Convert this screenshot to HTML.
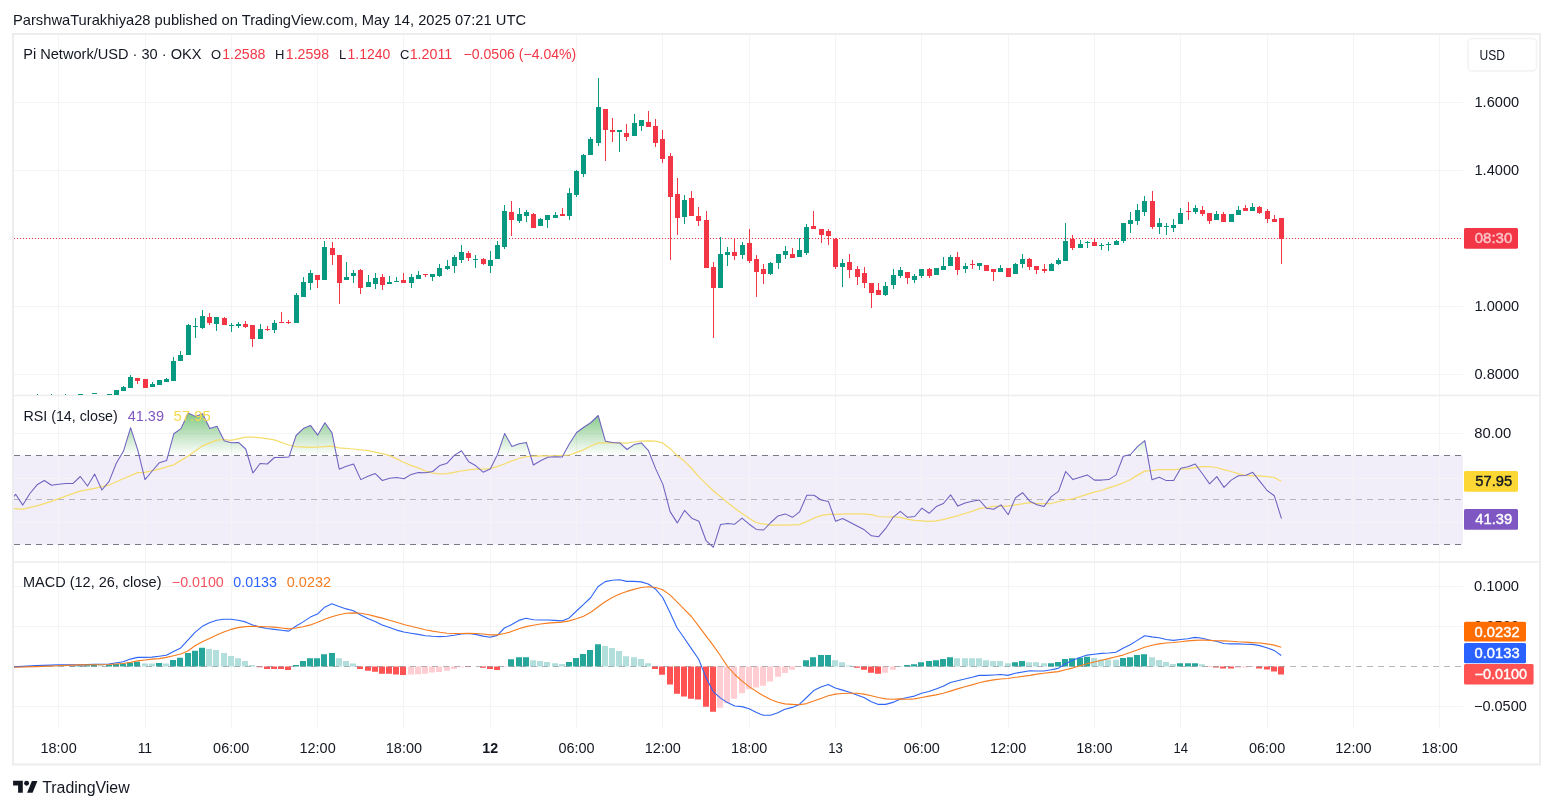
<!DOCTYPE html>
<html><head><meta charset="utf-8"><title>Pi Network/USD chart</title>
<style>html,body{margin:0;padding:0;background:#fff;}body{width:1553px;height:809px;position:relative;overflow:hidden;font-family:"Liberation Sans", sans-serif;}</style>
</head><body>
<svg width="1553" height="809" viewBox="0 0 1553 809" style="position:absolute;left:0;top:0;will-change:transform" font-family='"Liberation Sans", sans-serif'>
<defs>
<linearGradient id="ob" x1="0" y1="410" x2="0" y2="455.5" gradientUnits="userSpaceOnUse"><stop offset="0" stop-color="#4caf50" stop-opacity="0.75"/><stop offset="1" stop-color="#4caf50" stop-opacity="0"/></linearGradient>
<clipPath id="cm"><rect x="14" y="35" width="1449" height="360"/></clipPath>
<clipPath id="c70"><rect x="14" y="397" width="1449" height="58.5"/></clipPath>
<clipPath id="cr"><rect x="14" y="397" width="1449" height="165"/></clipPath>
<clipPath id="cd"><rect x="14" y="563" width="1449" height="166"/></clipPath>
</defs>
<rect width="1553" height="809" fill="#fff"/>
<rect x="14" y="455.5" width="1449" height="89" fill="#7e57c2" fill-opacity="0.1"/>
<path d="M58.5 35V728 M145.5 35V728 M231.5 35V728 M317.5 35V728 M403.5 35V728 M490.5 35V728 M576.5 35V728 M662.5 35V728 M749.5 35V728 M835.5 35V728 M921.5 35V728 M1008.5 35V728 M1094.5 35V728 M1180.5 35V728 M1267.5 35V728 M1353.5 35V728 M1439.5 35V728 M14 102.5H1463 M14 170.5H1463 M14 238.5H1463 M14 306.5H1463 M14 374.5H1463 M14 433.5H1463 M14 478.5H1463 M14 522.5H1463 M14 586.5H1463 M14 626.5H1463 M14 706.5H1463" stroke="#f3f4f6" stroke-width="1" fill="none"/>
<path d="M13 395.5H1540M13 562H1540" stroke="#ededef" stroke-width="1.4" fill="none"/>
<rect x="13" y="34" width="1527" height="730.5" fill="none" stroke="#ededef" stroke-width="2"/>
<path d="M14 238.5H1463" stroke="#f23645" stroke-width="1" stroke-dasharray="1 2" fill="none"/>
<g clip-path="url(#cm)">
<path d="M37.5 394V395.2M51.5 394V395.2M65.5 394V395.2M80.5 394V396M94.5 393V394M109.5 394V395M116.5 390V395M123.5 386V391M130.5 375V388M152.5 382V387M159.5 380V385M166.5 378V382M173.5 357V381M180.5 351V361M188.5 324V355M195.5 318V338M202.5 310V329M216.5 317V331M231.5 323V332M238.5 322V328M260.5 324V339M274.5 320V333M296.5 293V323M303.5 277V297M310.5 270V290M324.5 241V280M346.5 262V280M353.5 270V283M368.5 275V287M375.5 273V289M389.5 276V284M396.5 277V282M411.5 274V288M418.5 271V279M432.5 274V281M439.5 264V277M447.5 260V270M454.5 255V273M461.5 245V263M475.5 255V268M490.5 251V273M497.5 241V259M504.5 205V249M519.5 208V223M526.5 210V222M540.5 218V226M547.5 215V228M555.5 212V218M569.5 188V220M576.5 170V197M583.5 154V177M590.5 137V155M598.5 78V146M619.5 130V152M634.5 114V136M641.5 120V131M684.5 195V224M720.5 237V288M727.5 247V266M742.5 242V259M770.5 262V275M778.5 254V269M785.5 246V259M799.5 238V257M806.5 224V255M842.5 259V287M885.5 282V296M893.5 269V289M900.5 267V278M914.5 274V283M921.5 269V278M936.5 268V275M943.5 257V270M950.5 255V266M965.5 263V273M979.5 263V270M1000.5 265V272M1015.5 263V274M1022.5 254V268M1051.5 263V271M1058.5 258V265M1065.5 223V261M1080.5 240V248M1087.5 241V248M1101.5 243V250M1108.5 242V251M1116.5 240V245M1123.5 223V243M1130.5 212V233M1137.5 204V225M1144.5 196V216M1159.5 218V234M1166.5 223V235M1173.5 219V232M1180.5 208V224M1195.5 205V214M1216.5 211V220M1231.5 214V222M1238.5 206V215M1252.5 203V211" stroke="#089981" stroke-width="1" fill="none"/>
<path d="M137.5 378V384M145.5 379V388M209.5 313V325M224.5 317V325M245.5 321V328M252.5 325V347M267.5 326V331M281.5 312V323M288.5 320V324M317.5 275V288M332.5 242V265M339.5 255V304M360.5 269V294M382.5 274V290M403.5 273V283M425.5 274V277M468.5 251V261M483.5 258V265M511.5 201V236M533.5 213V228M562.5 208V216M605.5 109V161M612.5 118V142M626.5 124V141M648.5 111V127M655.5 119V147M662.5 130V163M670.5 153V260M677.5 178V235M691.5 191V216M698.5 207V226M706.5 211V268M713.5 262V338M734.5 239V260M749.5 229V263M756.5 255V297M763.5 264V284M792.5 248V258M813.5 211V229M821.5 229V243M828.5 229V245M835.5 238V269M849.5 254V278M857.5 266V285M864.5 267V288M871.5 283V308M878.5 283V295M907.5 272V284M929.5 268V278M957.5 252V275M972.5 260V269M986.5 265V271M993.5 269V281M1008.5 268V277M1029.5 258V270M1036.5 266V274M1044.5 264V273M1072.5 235V250M1094.5 238V246M1152.5 191V229M1188.5 202V220M1202.5 206V216M1209.5 213V224M1223.5 212V222M1245.5 205V211M1259.5 206V214M1267.5 209V223M1274.5 215V222M1281.5 218V264" stroke="#f23645" stroke-width="1" fill="none"/>
<path d="M78.0 394h5V395h-5ZM92.0 393h5V394h-5ZM107.0 394h5V395h-5ZM114.0 390h5V395h-5ZM121.0 387h5V391h-5ZM128.0 377h5V388h-5ZM150.0 384h5V387h-5ZM157.0 380h5V385h-5ZM164.0 379h5V382h-5ZM171.0 361h5V381h-5ZM178.0 355h5V361h-5ZM186.0 325h5V355h-5ZM193.0 326h5V327h-5ZM200.0 316h5V328h-5ZM214.0 317h5V324h-5ZM229.0 325h5V326h-5ZM236.0 324h5V326h-5ZM258.0 329h5V339h-5ZM272.0 323h5V330h-5ZM294.0 295h5V323h-5ZM301.0 282h5V297h-5ZM308.0 273h5V283h-5ZM322.0 247h5V280h-5ZM344.0 277h5V280h-5ZM351.0 273h5V276h-5ZM366.0 282h5V287h-5ZM373.0 278h5V284h-5ZM387.0 282h5V284h-5ZM394.0 281h5V282h-5ZM409.0 277h5V283h-5ZM416.0 275h5V279h-5ZM430.0 274h5V277h-5ZM437.0 268h5V276h-5ZM445.0 266h5V269h-5ZM452.0 257h5V266h-5ZM459.0 252h5V260h-5ZM473.0 259h5V260h-5ZM488.0 260h5V266h-5ZM495.0 245h5V259h-5ZM502.0 211h5V247h-5ZM517.0 214h5V221h-5ZM524.0 212h5V216h-5ZM538.0 219h5V226h-5ZM545.0 215h5V220h-5ZM553.0 215h5V218h-5ZM567.0 193h5V216h-5ZM574.0 171h5V195h-5ZM581.0 155h5V174h-5ZM588.0 139h5V155h-5ZM596.0 107h5V143h-5ZM617.0 130h5V132h-5ZM632.0 123h5V136h-5ZM639.0 120h5V126h-5ZM682.0 200h5V217h-5ZM718.0 254h5V288h-5ZM725.0 252h5V255h-5ZM740.0 245h5V255h-5ZM768.0 263h5V274h-5ZM776.0 254h5V263h-5ZM783.0 251h5V255h-5ZM797.0 250h5V257h-5ZM804.0 227h5V253h-5ZM840.0 263h5V267h-5ZM883.0 286h5V295h-5ZM891.0 275h5V285h-5ZM898.0 270h5V276h-5ZM912.0 276h5V280h-5ZM919.0 269h5V276h-5ZM934.0 268h5V275h-5ZM941.0 266h5V270h-5ZM948.0 257h5V266h-5ZM963.0 266h5V269h-5ZM977.0 263h5V266h-5ZM998.0 268h5V272h-5ZM1013.0 264h5V274h-5ZM1020.0 259h5V264h-5ZM1049.0 264h5V271h-5ZM1056.0 260h5V264h-5ZM1063.0 241h5V261h-5ZM1078.0 244h5V248h-5ZM1085.0 242h5V243h-5ZM1099.0 245h5V246h-5ZM1106.0 244h5V245h-5ZM1114.0 241h5V245h-5ZM1121.0 223h5V241h-5ZM1128.0 220h5V224h-5ZM1135.0 210h5V221h-5ZM1142.0 201h5V212h-5ZM1157.0 223h5V227h-5ZM1164.0 226h5V227h-5ZM1171.0 225h5V228h-5ZM1178.0 213h5V224h-5ZM1193.0 208h5V212h-5ZM1214.0 214h5V220h-5ZM1229.0 214h5V222h-5ZM1236.0 210h5V215h-5ZM1250.0 207h5V211h-5Z" fill="#089981"/>
<path d="M135.0 378h5V381h-5ZM143.0 379h5V388h-5ZM207.0 317h5V323h-5ZM222.0 318h5V325h-5ZM243.0 324h5V327h-5ZM250.0 325h5V339h-5ZM265.0 329h5V330h-5ZM279.0 322h5V323h-5ZM286.0 322h5V323h-5ZM315.0 275h5V280h-5ZM330.0 248h5V255h-5ZM337.0 255h5V283h-5ZM358.0 270h5V288h-5ZM380.0 277h5V285h-5ZM401.0 280h5V283h-5ZM423.0 274h5V275h-5ZM466.0 253h5V258h-5ZM481.0 259h5V264h-5ZM509.0 212h5V220h-5ZM531.0 214h5V228h-5ZM560.0 214h5V216h-5ZM603.0 109h5V130h-5ZM610.0 130h5V132h-5ZM624.0 133h5V137h-5ZM646.0 122h5V127h-5ZM653.0 126h5V143h-5ZM660.0 139h5V159h-5ZM668.0 156h5V197h-5ZM675.0 194h5V218h-5ZM689.0 198h5V216h-5ZM696.0 216h5V221h-5ZM704.0 220h5V268h-5ZM711.0 267h5V288h-5ZM732.0 252h5V256h-5ZM747.0 243h5V261h-5ZM754.0 259h5V272h-5ZM761.0 269h5V274h-5ZM790.0 254h5V258h-5ZM811.0 226h5V229h-5ZM819.0 229h5V235h-5ZM826.0 231h5V236h-5ZM833.0 239h5V267h-5ZM847.0 262h5V270h-5ZM855.0 269h5V277h-5ZM862.0 273h5V283h-5ZM869.0 283h5V293h-5ZM876.0 290h5V295h-5ZM905.0 272h5V278h-5ZM927.0 269h5V276h-5ZM955.0 257h5V270h-5ZM970.0 264h5V265h-5ZM984.0 265h5V271h-5ZM991.0 269h5V272h-5ZM1006.0 268h5V277h-5ZM1027.0 259h5V267h-5ZM1034.0 266h5V270h-5ZM1042.0 269h5V271h-5ZM1070.0 239h5V248h-5ZM1092.0 242h5V246h-5ZM1150.0 201h5V227h-5ZM1186.0 211h5V212h-5ZM1200.0 210h5V214h-5ZM1207.0 213h5V221h-5ZM1221.0 214h5V222h-5ZM1243.0 208h5V211h-5ZM1257.0 207h5V213h-5ZM1265.0 211h5V219h-5ZM1272.0 219h5V222h-5ZM1279.0 218h5V239h-5Z" fill="#f23645"/>
</g>
<polygon clip-path="url(#c70)" points="13,455.5 13.0,497.5 15.6,494.3 22.8,505.1 29.9,493.5 37.1,484.8 44.3,480.5 51.5,485.2 58.7,484.3 65.9,483.6 73.1,483.4 80.3,476.5 87.5,486.0 94.7,474.1 101.9,490.0 109.1,481.4 116.3,463.2 123.5,451.1 130.6,427.7 137.8,450.2 145.0,479.6 152.2,471.0 159.4,462.7 166.6,460.6 173.8,433.8 181.0,428.6 188.2,413.0 195.4,416.4 202.6,413.8 209.8,428.6 217.0,426.3 224.2,440.7 231.3,442.8 238.5,442.4 245.7,449.0 252.9,473.0 260.1,463.5 267.3,464.0 274.5,457.5 281.7,457.5 288.9,457.1 296.1,435.5 303.3,428.6 310.5,425.4 317.7,435.1 324.9,422.8 332.0,432.9 339.2,469.2 346.4,466.3 353.6,464.0 360.8,479.6 368.0,476.2 375.2,473.6 382.4,480.5 389.6,478.2 396.8,477.4 404.0,478.8 411.2,474.4 418.4,472.4 425.6,472.7 432.7,471.5 439.9,465.4 447.1,463.2 454.3,455.4 461.5,450.7 468.7,461.8 475.9,465.8 483.1,472.2 490.3,468.9 497.5,454.5 504.7,433.4 511.9,446.4 519.1,443.8 526.3,442.4 533.4,465.0 540.6,460.7 547.8,457.3 555.0,456.7 562.2,457.1 569.4,443.8 576.6,432.5 583.8,427.3 591.0,422.5 598.2,415.5 605.4,441.2 612.6,442.5 619.8,442.9 627.0,449.5 634.1,444.6 641.3,442.9 648.5,450.7 655.7,468.9 662.9,484.4 670.1,511.6 677.3,522.9 684.5,510.4 691.7,518.2 698.9,521.3 706.1,540.7 713.3,547.3 720.5,524.6 727.7,523.4 734.8,524.2 742.0,518.2 749.2,524.2 756.4,529.4 763.6,530.0 770.8,522.5 778.0,515.9 785.2,513.9 792.4,517.3 799.6,511.8 806.8,495.2 814.0,495.3 821.2,500.0 828.4,501.4 835.6,521.3 842.7,518.5 849.9,522.2 857.1,526.0 864.3,529.8 871.5,535.8 878.7,536.7 885.9,528.2 893.1,517.3 900.3,511.3 907.5,517.3 914.7,516.5 921.9,508.1 929.1,513.3 936.3,506.6 943.4,503.5 950.6,494.8 957.8,506.1 965.0,503.1 972.2,501.2 979.4,500.0 986.6,508.3 993.8,509.2 1001.0,504.9 1008.2,514.7 1015.4,497.9 1022.6,492.7 1029.8,501.2 1037.0,504.7 1044.1,506.4 1051.3,496.6 1058.5,491.4 1065.7,471.5 1072.9,479.6 1080.1,477.2 1087.3,474.9 1094.5,480.1 1101.7,480.1 1108.9,479.6 1116.1,474.9 1123.3,456.2 1130.5,454.5 1137.7,446.4 1144.8,440.6 1152.0,479.8 1159.2,477.2 1166.4,480.6 1173.6,480.5 1180.8,468.3 1188.0,466.8 1195.2,464.0 1202.4,473.7 1209.6,483.9 1216.8,476.6 1224.0,487.4 1231.2,480.1 1238.4,475.8 1245.5,475.4 1252.7,472.3 1259.9,481.3 1267.1,490.5 1274.3,495.7 1281.5,518.7 1281.5,455.5" fill="url(#ob)"/>
<path d="M14 455.5H1463M14 544.5H1463" stroke="#787b86" stroke-width="1" stroke-dasharray="6 5" fill="none"/>
<path d="M14 499.5H1463" stroke="#787b86" stroke-opacity="0.5" stroke-width="1" stroke-dasharray="6 5" fill="none"/>
<polyline clip-path="url(#cr)" points="10.0,508.2 12.6,508.5 22.6,509.1 37.0,505.9 51.4,501.3 65.7,496.1 80.1,491.2 94.5,488.3 108.8,485.2 123.2,478.8 137.6,472.7 144.8,472.4 159.2,469.2 173.6,464.9 187.9,456.3 202.3,445.9 216.7,440.2 223.8,439.5 231.0,440.3 238.1,438.9 245.4,437.2 252.7,437.2 259.8,437.7 274.4,439.8 288.7,445.0 295.8,446.7 310.4,447.3 324.7,446.7 331.8,446.2 339.1,447.9 353.5,449.0 367.8,450.7 382.2,453.7 389.3,455.4 396.6,458.9 403.7,462.3 410.9,465.4 418.2,467.9 425.3,471.0 432.6,473.2 439.7,473.9 446.9,473.6 454.0,472.4 461.3,471.0 468.4,469.8 475.7,469.2 482.8,469.2 490.1,468.7 497.1,466.6 504.4,464.0 510.0,461.6 518.8,458.5 526.1,456.7 540.5,455.9 554.8,455.9 569.2,455.0 576.5,452.4 583.6,449.8 590.8,446.0 597.9,442.9 605.2,442.9 619.6,442.9 626.7,443.2 633.9,442.0 641.2,441.2 648.3,440.8 655.6,441.2 662.7,442.9 669.9,448.4 677.0,455.4 684.3,461.1 691.4,468.0 698.7,476.6 705.8,483.6 713.0,490.5 720.3,496.6 727.4,502.6 734.7,508.3 741.8,513.3 749.1,518.2 756.1,522.5 760.0,523.4 770.6,525.1 784.9,525.1 799.3,524.6 806.6,521.6 813.7,518.2 820.9,515.6 828.2,514.4 835.3,514.4 849.7,513.9 864.0,513.9 871.3,514.7 878.4,516.5 885.7,517.0 892.9,516.8 900.0,517.3 907.3,519.1 914.4,520.4 921.7,520.8 928.8,521.3 936.0,520.8 943.1,519.6 950.4,517.7 957.5,515.9 964.8,513.5 972.0,511.3 979.1,508.7 986.4,507.5 993.5,506.4 1000.8,506.1 1007.9,506.1 1015.1,504.9 1030.0,502.6 1036.8,503.5 1043.8,503.5 1051.1,503.5 1058.2,501.7 1065.5,500.0 1072.6,498.8 1079.9,496.6 1087.1,494.3 1094.2,492.2 1101.5,490.5 1108.6,487.9 1115.9,485.6 1123.0,483.0 1130.2,479.8 1137.3,475.4 1144.6,471.1 1151.9,470.6 1159.0,469.7 1166.2,469.7 1173.3,469.7 1180.6,469.2 1187.7,468.9 1195.0,467.6 1202.1,466.6 1209.3,466.6 1216.4,467.5 1223.7,469.7 1231.0,471.5 1238.1,473.7 1245.3,475.4 1252.4,475.8 1259.7,475.8 1266.8,476.6 1274.1,477.5 1281.2,481.3" fill="none" stroke="#f6dc6c" stroke-width="1.25" stroke-linejoin="round"/>
<polyline clip-path="url(#cr)" points="13.0,497.5 15.6,494.3 22.8,505.1 29.9,493.5 37.1,484.8 44.3,480.5 51.5,485.2 58.7,484.3 65.9,483.6 73.1,483.4 80.3,476.5 87.5,486.0 94.7,474.1 101.9,490.0 109.1,481.4 116.3,463.2 123.5,451.1 130.6,427.7 137.8,450.2 145.0,479.6 152.2,471.0 159.4,462.7 166.6,460.6 173.8,433.8 181.0,428.6 188.2,413.0 195.4,416.4 202.6,413.8 209.8,428.6 217.0,426.3 224.2,440.7 231.3,442.8 238.5,442.4 245.7,449.0 252.9,473.0 260.1,463.5 267.3,464.0 274.5,457.5 281.7,457.5 288.9,457.1 296.1,435.5 303.3,428.6 310.5,425.4 317.7,435.1 324.9,422.8 332.0,432.9 339.2,469.2 346.4,466.3 353.6,464.0 360.8,479.6 368.0,476.2 375.2,473.6 382.4,480.5 389.6,478.2 396.8,477.4 404.0,478.8 411.2,474.4 418.4,472.4 425.6,472.7 432.7,471.5 439.9,465.4 447.1,463.2 454.3,455.4 461.5,450.7 468.7,461.8 475.9,465.8 483.1,472.2 490.3,468.9 497.5,454.5 504.7,433.4 511.9,446.4 519.1,443.8 526.3,442.4 533.4,465.0 540.6,460.7 547.8,457.3 555.0,456.7 562.2,457.1 569.4,443.8 576.6,432.5 583.8,427.3 591.0,422.5 598.2,415.5 605.4,441.2 612.6,442.5 619.8,442.9 627.0,449.5 634.1,444.6 641.3,442.9 648.5,450.7 655.7,468.9 662.9,484.4 670.1,511.6 677.3,522.9 684.5,510.4 691.7,518.2 698.9,521.3 706.1,540.7 713.3,547.3 720.5,524.6 727.7,523.4 734.8,524.2 742.0,518.2 749.2,524.2 756.4,529.4 763.6,530.0 770.8,522.5 778.0,515.9 785.2,513.9 792.4,517.3 799.6,511.8 806.8,495.2 814.0,495.3 821.2,500.0 828.4,501.4 835.6,521.3 842.7,518.5 849.9,522.2 857.1,526.0 864.3,529.8 871.5,535.8 878.7,536.7 885.9,528.2 893.1,517.3 900.3,511.3 907.5,517.3 914.7,516.5 921.9,508.1 929.1,513.3 936.3,506.6 943.4,503.5 950.6,494.8 957.8,506.1 965.0,503.1 972.2,501.2 979.4,500.0 986.6,508.3 993.8,509.2 1001.0,504.9 1008.2,514.7 1015.4,497.9 1022.6,492.7 1029.8,501.2 1037.0,504.7 1044.1,506.4 1051.3,496.6 1058.5,491.4 1065.7,471.5 1072.9,479.6 1080.1,477.2 1087.3,474.9 1094.5,480.1 1101.7,480.1 1108.9,479.6 1116.1,474.9 1123.3,456.2 1130.5,454.5 1137.7,446.4 1144.8,440.6 1152.0,479.8 1159.2,477.2 1166.4,480.6 1173.6,480.5 1180.8,468.3 1188.0,466.8 1195.2,464.0 1202.4,473.7 1209.6,483.9 1216.8,476.6 1224.0,487.4 1231.2,480.1 1238.4,475.8 1245.5,475.4 1252.7,472.3 1259.9,481.3 1267.1,490.5 1274.3,495.7 1281.5,518.7" fill="none" stroke="#6d62c0" stroke-width="1.05" stroke-linejoin="round"/>
<g clip-path="url(#cd)">
<path d="M12 666.1h6v0.4h-6ZM19 666.1h6v0.4h-6ZM26 666.1h6v0.4h-6ZM34 666.1h6v0.4h-6ZM41 666.2h6v0.3h-6ZM70 666.0h6v0.5h-6ZM77 665.5h6v1.0h-6ZM84 665.3h6v1.2h-6ZM91 664.9h6v1.6h-6ZM106 664.9h6v1.6h-6ZM113 663.9h6v2.6h-6ZM120 663.4h6v3.1h-6ZM127 662.5h6v4.0h-6ZM134 661.7h6v4.8h-6ZM156 663.0h6v3.5h-6ZM170 659.9h6v6.6h-6ZM177 657.8h6v8.7h-6ZM185 653.0h6v13.5h-6ZM192 650.7h6v15.8h-6ZM199 647.8h6v18.7h-6ZM293 665.1h6v1.4h-6ZM300 661.1h6v5.4h-6ZM307 658.2h6v8.3h-6ZM314 658.2h6v8.3h-6ZM321 654.2h6v12.3h-6ZM329 653.0h6v13.5h-6ZM508 659.2h6v7.3h-6ZM516 657.2h6v9.3h-6ZM523 657.2h6v9.3h-6ZM566 662.0h6v4.5h-6ZM573 658.0h6v8.5h-6ZM580 654.0h6v12.5h-6ZM587 649.9h6v16.6h-6ZM595 644.2h6v22.3h-6ZM803 660.3h6v6.2h-6ZM810 657.3h6v9.2h-6ZM818 655.1h6v11.4h-6ZM825 655.1h6v11.4h-6ZM897 666.2h6v0.3h-6ZM904 665.1h6v1.4h-6ZM911 664.2h6v2.3h-6ZM918 662.3h6v4.2h-6ZM926 661.1h6v5.4h-6ZM933 660.3h6v6.2h-6ZM940 659.1h6v7.4h-6ZM947 657.2h6v9.3h-6ZM1012 662.3h6v4.2h-6ZM1019 661.1h6v5.4h-6ZM1048 663.2h6v3.3h-6ZM1055 662.0h6v4.5h-6ZM1062 659.1h6v7.4h-6ZM1069 658.2h6v8.3h-6ZM1077 657.7h6v8.8h-6ZM1084 656.8h6v9.7h-6ZM1120 658.0h6v8.5h-6ZM1127 657.2h6v9.3h-6ZM1134 655.1h6v11.4h-6ZM1141 654.2h6v12.3h-6ZM1177 663.2h6v3.3h-6ZM1185 663.2h6v3.3h-6ZM1192 663.2h6v3.3h-6Z" fill="#26a69a"/>
<path d="M48 666.2h6v0.3h-6ZM55 666.2h6v0.3h-6ZM62 666.2h6v0.3h-6ZM98 665.3h6v1.2h-6ZM142 663.4h6v3.1h-6ZM149 663.4h6v3.1h-6ZM163 663.4h6v3.1h-6ZM206 649.0h6v17.5h-6ZM213 649.9h6v16.6h-6ZM221 653.0h6v13.5h-6ZM228 655.9h6v10.6h-6ZM235 658.2h6v8.3h-6ZM242 661.1h6v5.4h-6ZM249 665.1h6v1.4h-6ZM336 658.2h6v8.3h-6ZM343 661.1h6v5.4h-6ZM350 663.4h6v3.1h-6ZM530 660.3h6v6.2h-6ZM537 661.1h6v5.4h-6ZM544 662.0h6v4.5h-6ZM552 663.2h6v3.3h-6ZM559 664.1h6v2.4h-6ZM602 645.9h6v20.6h-6ZM609 648.0h6v18.5h-6ZM616 651.1h6v15.4h-6ZM623 656.3h6v10.2h-6ZM631 657.2h6v9.3h-6ZM638 658.9h6v7.6h-6ZM645 663.2h6v3.3h-6ZM832 660.3h6v6.2h-6ZM839 662.3h6v4.2h-6ZM846 665.5h6v1.0h-6ZM954 658.2h6v8.3h-6ZM962 658.2h6v8.3h-6ZM969 658.2h6v8.3h-6ZM976 658.2h6v8.3h-6ZM983 660.3h6v6.2h-6ZM990 661.1h6v5.4h-6ZM997 661.1h6v5.4h-6ZM1005 663.2h6v3.3h-6ZM1026 662.3h6v4.2h-6ZM1033 662.3h6v4.2h-6ZM1041 663.2h6v3.3h-6ZM1091 658.0h6v8.5h-6ZM1098 659.4h6v7.1h-6ZM1105 659.7h6v6.8h-6ZM1113 659.7h6v6.8h-6ZM1149 657.2h6v9.3h-6ZM1156 659.9h6v6.6h-6ZM1163 662.0h6v4.5h-6ZM1170 664.1h6v2.4h-6ZM1199 664.2h6v2.3h-6Z" fill="#b2dfdb"/>
<path d="M257 666.5h6v0.7h-6ZM264 666.5h6v2.4h-6ZM271 666.5h6v2.4h-6ZM278 666.5h6v2.4h-6ZM285 666.5h6v3.5h-6ZM357 666.5h6v2.4h-6ZM365 666.5h6v4.2h-6ZM372 666.5h6v5.2h-6ZM379 666.5h6v7.3h-6ZM386 666.5h6v7.3h-6ZM393 666.5h6v8.1h-6ZM400 666.5h6v8.5h-6ZM465 666.5h6v0.5h-6ZM480 666.5h6v1.2h-6ZM487 666.5h6v2.4h-6ZM494 666.5h6v3.5h-6ZM652 666.5h6v2.4h-6ZM659 666.5h6v8.3h-6ZM667 666.5h6v18.0h-6ZM674 666.5h6v27.3h-6ZM681 666.5h6v30.1h-6ZM688 666.5h6v32.2h-6ZM695 666.5h6v33.1h-6ZM703 666.5h6v40.3h-6ZM710 666.5h6v45.2h-6ZM854 666.5h6v1.2h-6ZM861 666.5h6v3.3h-6ZM868 666.5h6v6.2h-6ZM875 666.5h6v7.3h-6ZM1206 666.5h6v0.3h-6ZM1213 666.5h6v1.0h-6ZM1220 666.5h6v2.1h-6ZM1228 666.5h6v2.1h-6ZM1256 666.5h6v2.1h-6ZM1264 666.5h6v2.9h-6ZM1271 666.5h6v5.0h-6ZM1278 666.5h6v8.0h-6Z" fill="#ff5252"/>
<path d="M408 666.5h6v8.1h-6ZM415 666.5h6v7.8h-6ZM422 666.5h6v7.3h-6ZM429 666.5h6v5.9h-6ZM436 666.5h6v5.5h-6ZM444 666.5h6v4.3h-6ZM451 666.5h6v2.4h-6ZM458 666.5h6v0.7h-6ZM472 666.5h6v0.3h-6ZM501 666.5h6v0.7h-6ZM717 666.5h6v41.2h-6ZM724 666.5h6v36.5h-6ZM731 666.5h6v32.2h-6ZM739 666.5h6v26.7h-6ZM746 666.5h6v22.7h-6ZM753 666.5h6v20.9h-6ZM760 666.5h6v19.2h-6ZM767 666.5h6v15.1h-6ZM775 666.5h6v10.2h-6ZM782 666.5h6v6.4h-6ZM789 666.5h6v3.3h-6ZM796 666.5h6v0.5h-6ZM882 666.5h6v6.2h-6ZM890 666.5h6v3.3h-6ZM1235 666.5h6v1.2h-6ZM1242 666.5h6v0.9h-6ZM1249 666.5h6v0.5h-6Z" fill="#ffcdd2"/>
<path d="M14 666.5H1463" stroke="#787b86" stroke-opacity="0.55" stroke-width="1" stroke-dasharray="6 5" fill="none"/>
<polyline points="13.5,666.9 36.0,665.6 58.5,664.9 79.2,664.9 94.5,664.3 108.8,664.0 123.2,661.7 130.5,659.1 137.6,657.4 144.8,657.4 151.9,657.1 159.2,656.2 166.3,655.3 173.6,651.4 180.7,647.9 187.9,640.1 195.0,632.3 202.3,626.3 209.4,622.8 216.7,620.2 223.8,619.3 231.0,619.3 238.1,620.2 245.4,621.9 252.7,625.0 259.8,627.1 267.1,628.5 274.4,629.4 281.5,630.2 288.7,631.1 295.8,626.3 303.1,621.9 310.4,617.1 317.5,614.1 324.7,607.2 331.8,603.8 339.1,606.4 346.2,608.9 353.5,610.7 360.6,615.0 367.8,618.5 375.1,621.6 382.2,625.0 389.5,627.6 396.6,630.1 403.8,632.0 410.9,633.2 418.2,634.4 425.3,635.8 432.6,636.3 439.9,636.6 446.9,636.3 454.2,635.3 461.3,634.0 468.6,633.5 475.7,634.4 483.0,636.1 490.1,637.2 497.3,635.4 504.4,628.0 510.0,625.5 518.8,620.4 526.1,618.3 533.2,619.7 540.5,620.0 547.6,620.0 554.8,620.4 561.9,620.9 569.2,617.9 576.5,611.0 583.6,604.4 590.8,597.5 597.9,586.8 605.2,581.6 612.3,580.2 619.6,579.7 626.8,581.4 633.9,581.4 641.2,581.9 648.3,584.0 655.6,589.2 662.7,597.5 669.9,612.2 677.0,627.8 684.3,638.2 691.4,648.6 698.7,659.3 705.8,677.1 713.0,691.3 720.3,697.9 727.4,702.6 734.7,706.0 741.8,706.6 749.1,708.8 756.1,712.3 760.0,714.0 763.5,715.2 770.6,715.2 777.8,712.7 784.9,709.3 792.2,707.4 799.3,704.4 806.6,697.5 813.7,690.6 820.9,687.1 828.2,684.5 835.3,688.0 842.6,690.1 849.7,692.3 856.9,694.9 864.0,697.5 871.3,701.8 878.4,704.4 885.7,704.4 892.9,702.4 900.0,699.2 907.3,697.5 914.4,696.1 921.7,693.2 928.8,691.5 936.0,688.9 943.1,686.3 950.4,682.5 957.5,680.7 964.8,679.0 972.0,677.3 979.1,675.4 986.4,675.4 993.5,675.0 1000.8,674.5 1007.9,675.4 1015.1,673.3 1030.0,670.7 1036.8,671.0 1043.8,671.0 1051.1,669.8 1058.2,668.4 1065.5,663.8 1072.6,660.3 1079.9,657.4 1087.1,655.1 1094.2,654.2 1101.5,653.4 1108.6,653.0 1115.9,652.2 1123.0,648.2 1130.2,644.7 1137.3,640.4 1144.6,635.7 1151.9,636.9 1159.0,637.8 1166.2,639.5 1173.3,640.4 1180.6,639.5 1187.7,638.7 1195.0,637.4 1202.1,638.3 1209.3,640.0 1216.4,641.3 1223.7,643.5 1231.0,643.9 1238.1,643.9 1245.3,644.2 1252.4,644.4 1259.7,645.6 1266.8,647.7 1274.1,650.4 1281.2,655.5" fill="none" stroke="#2f66f5" stroke-width="1.1" stroke-linejoin="round"/>
<polyline points="13.5,667.3 36.0,666.6 58.5,665.7 79.2,664.9 94.5,664.7 108.8,664.5 123.2,663.5 130.5,662.3 137.6,660.9 144.8,660.0 151.9,659.1 159.2,658.6 166.3,657.4 173.6,655.7 180.7,654.0 187.9,651.0 195.0,645.8 202.3,641.8 209.4,638.4 216.7,634.9 223.8,632.0 231.0,629.4 238.1,627.6 245.4,626.6 252.7,626.3 259.8,626.6 267.1,626.8 274.4,627.1 281.5,628.0 288.7,628.9 295.8,628.0 303.1,626.8 310.4,624.9 317.5,622.3 324.7,619.3 331.8,616.7 339.1,614.7 346.2,613.3 353.5,612.9 360.6,613.3 367.8,614.5 375.1,616.4 382.2,618.1 389.5,620.2 396.6,622.3 403.8,624.5 410.9,626.3 418.2,628.0 425.3,629.7 432.6,631.1 439.9,632.3 446.9,633.2 454.2,633.5 461.3,633.5 468.6,633.2 475.7,633.5 483.0,634.0 490.1,634.9 497.3,634.9 504.4,633.5 510.0,632.1 518.8,628.7 526.1,626.6 533.2,625.2 540.5,624.0 547.6,623.1 554.8,622.6 561.9,622.1 569.2,620.9 576.5,618.8 583.6,616.2 590.8,612.2 597.9,607.0 605.2,601.8 612.3,597.5 619.6,594.0 626.8,591.4 633.9,589.4 641.2,587.5 648.3,586.8 655.6,587.5 662.7,589.7 669.9,594.9 677.0,601.8 684.3,609.3 691.4,616.5 698.7,626.1 705.8,635.6 713.0,645.1 720.3,655.5 727.4,666.4 734.7,674.5 741.8,680.9 749.1,686.6 756.1,691.3 760.0,693.7 763.5,695.8 770.6,699.6 777.8,702.2 784.9,703.9 792.2,704.4 799.3,704.8 806.6,703.6 813.7,701.0 820.9,698.4 828.2,695.8 835.3,694.1 842.6,693.5 849.7,693.2 856.9,693.2 864.0,694.1 871.3,695.8 878.4,697.5 885.7,698.9 892.9,699.2 900.0,698.9 907.3,699.2 914.4,698.9 921.7,697.5 928.8,696.1 936.0,694.9 943.1,693.2 950.4,691.1 957.5,688.9 964.8,686.8 972.0,684.9 979.1,682.8 986.4,681.1 993.5,679.9 1000.8,679.0 1007.9,678.5 1015.1,677.3 1030.0,675.4 1036.8,674.1 1043.8,673.3 1051.1,672.4 1058.2,671.6 1065.5,669.8 1072.6,668.1 1079.9,665.8 1087.1,663.8 1094.2,662.0 1101.5,660.3 1108.6,658.6 1115.9,656.8 1123.0,655.1 1130.2,652.5 1137.3,649.9 1144.6,647.3 1151.9,645.2 1159.0,643.9 1166.2,643.0 1173.3,642.5 1180.6,641.8 1187.7,640.9 1195.0,640.4 1202.1,640.0 1209.3,640.4 1216.4,640.7 1223.7,640.9 1231.0,641.3 1238.1,641.8 1245.3,642.1 1252.4,642.6 1259.7,643.0 1266.8,643.9 1274.1,645.1 1281.2,647.3" fill="none" stroke="#f57c1f" stroke-width="1.1" stroke-linejoin="round"/>
</g>
<text x="13" y="25.2" font-size="14.5" fill="#131722" textLength="513" lengthAdjust="spacingAndGlyphs">ParshwaTurakhiya28 published on TradingView.com, May 14, 2025 07:21 UTC</text>
<text x="23.2" y="58.6" font-size="14" fill="#131722" textLength="178.3" lengthAdjust="spacingAndGlyphs">Pi Network/USD · 30 · OKX</text>
<text x="210.9" y="58.6" font-size="13" fill="#131722">O</text>
<text x="222.2" y="58.6" font-size="14" fill="#f23645" textLength="43.3" lengthAdjust="spacingAndGlyphs">1.2588</text>
<text x="275.0" y="58.6" font-size="13" fill="#131722">H</text>
<text x="285.8" y="58.6" font-size="14" fill="#f23645" textLength="43.3" lengthAdjust="spacingAndGlyphs">1.2598</text>
<text x="339.0" y="58.6" font-size="13" fill="#131722">L</text>
<text x="347.6" y="58.6" font-size="14" fill="#f23645" textLength="42.8" lengthAdjust="spacingAndGlyphs">1.1240</text>
<text x="400.0" y="58.6" font-size="13" fill="#131722">C</text>
<text x="409.7" y="58.6" font-size="14" fill="#f23645" textLength="42.5" lengthAdjust="spacingAndGlyphs">1.2011</text>
<text x="463.5" y="58.6" font-size="14" fill="#f23645" textLength="112.8" lengthAdjust="spacingAndGlyphs">−0.0506 (−4.04%)</text>
<text x="23.4" y="420.8" font-size="14" fill="#131722" textLength="94.4" lengthAdjust="spacingAndGlyphs">RSI (14, close)</text>
<text x="127.7" y="420.8" font-size="14" fill="#7e57c2" textLength="36.3" lengthAdjust="spacingAndGlyphs">41.39</text>
<text x="173.6" y="420.8" font-size="14" fill="#f7d94c" textLength="37.2" lengthAdjust="spacingAndGlyphs">57.95</text>
<text x="23" y="587.3" font-size="14" fill="#131722" textLength="138.5" lengthAdjust="spacingAndGlyphs">MACD (12, 26, close)</text>
<text x="171.8" y="587.3" font-size="14" fill="#f2525f" textLength="52" lengthAdjust="spacingAndGlyphs">−0.0100</text>
<text x="233.3" y="587.3" font-size="14" fill="#2962ff" textLength="43.7" lengthAdjust="spacingAndGlyphs">0.0133</text>
<text x="286.8" y="587.3" font-size="14" fill="#f57c1f" textLength="44.2" lengthAdjust="spacingAndGlyphs">0.0232</text>
<text x="1474.5" y="107" font-size="14" fill="#131722" textLength="44.6" lengthAdjust="spacingAndGlyphs">1.6000</text>
<text x="1474.5" y="175" font-size="14" fill="#131722" textLength="44.6" lengthAdjust="spacingAndGlyphs">1.4000</text>
<text x="1474.5" y="311" font-size="14" fill="#131722" textLength="44.6" lengthAdjust="spacingAndGlyphs">1.0000</text>
<text x="1474.5" y="379" font-size="14" fill="#131722" textLength="44.6" lengthAdjust="spacingAndGlyphs">0.8000</text>
<text x="1474.3" y="438" font-size="14" fill="#131722" textLength="37" lengthAdjust="spacingAndGlyphs">80.00</text>
<text x="1474" y="591" font-size="14" fill="#131722" textLength="45" lengthAdjust="spacingAndGlyphs">0.1000</text>
<text x="1474" y="631" font-size="14" fill="#131722" textLength="45" lengthAdjust="spacingAndGlyphs">0.0500</text>
<text x="1474" y="711" font-size="14" fill="#131722" textLength="52.8" lengthAdjust="spacingAndGlyphs">−0.0500</text>
<rect x="1468" y="38.5" width="68.5" height="32.5" rx="4" fill="#fff" stroke="#f1f2f4" stroke-width="1.5"/>
<text x="1479.6" y="60" font-size="14" fill="#131722" textLength="25.4" lengthAdjust="spacingAndGlyphs">USD</text>
<rect x="1464" y="228" width="54" height="20.7" rx="1.5" fill="#f23645"/>
<text x="1474.7" y="243.35" font-size="14" fill="#fbc4c9" textLength="37.6" lengthAdjust="spacingAndGlyphs" stroke="#fbc4c9" stroke-width="0.4">08:30</text>
<rect x="1464" y="471" width="54" height="20.8" rx="1.5" fill="#fdd835"/>
<text x="1475.3" y="486.4" font-size="14" fill="#131722" textLength="36.8" lengthAdjust="spacingAndGlyphs" stroke="#131722" stroke-width="0.4">57.95</text>
<rect x="1464" y="509" width="54" height="20.7" rx="1.5" fill="#7e57c2"/>
<text x="1475.3" y="524.35" font-size="14" fill="#fff" textLength="36.8" lengthAdjust="spacingAndGlyphs" stroke="#fff" stroke-width="0.4">41.39</text>
<rect x="1464" y="621.8" width="62" height="19.8" rx="1.5" fill="#ff6d00"/>
<text x="1474.6" y="636.6999999999999" font-size="14" fill="#fff" textLength="45" lengthAdjust="spacingAndGlyphs" stroke="#fff" stroke-width="0.4">0.0232</text>
<rect x="1464" y="643" width="62" height="20.3" rx="1.5" fill="#2962ff"/>
<text x="1474.6" y="658.15" font-size="14" fill="#fff" textLength="45" lengthAdjust="spacingAndGlyphs" stroke="#fff" stroke-width="0.4">0.0133</text>
<rect x="1464" y="664" width="69.6" height="20.6" rx="1.5" fill="#ff5252"/>
<text x="1474.6" y="679.3" font-size="14" fill="#fff" textLength="52.5" lengthAdjust="spacingAndGlyphs" stroke="#fff" stroke-width="0.4">−0.0100</text>
<text x="58.6" y="752.6" font-size="14" fill="#131722" textLength="36.2" lengthAdjust="spacingAndGlyphs" text-anchor="middle">18:00</text>
<text x="144.9" y="752.6" font-size="14" fill="#131722" textLength="14.5" lengthAdjust="spacingAndGlyphs" text-anchor="middle">11</text>
<text x="231.2" y="752.6" font-size="14" fill="#131722" textLength="36.2" lengthAdjust="spacingAndGlyphs" text-anchor="middle">06:00</text>
<text x="317.6" y="752.6" font-size="14" fill="#131722" textLength="36.2" lengthAdjust="spacingAndGlyphs" text-anchor="middle">12:00</text>
<text x="403.9" y="752.6" font-size="14" fill="#131722" textLength="36.2" lengthAdjust="spacingAndGlyphs" text-anchor="middle">18:00</text>
<text x="490.2" y="752.6" font-size="14" fill="#131722" textLength="15.8" lengthAdjust="spacingAndGlyphs" font-weight="700" text-anchor="middle">12</text>
<text x="576.5" y="752.6" font-size="14" fill="#131722" textLength="36.2" lengthAdjust="spacingAndGlyphs" text-anchor="middle">06:00</text>
<text x="662.8" y="752.6" font-size="14" fill="#131722" textLength="36.2" lengthAdjust="spacingAndGlyphs" text-anchor="middle">12:00</text>
<text x="749.2" y="752.6" font-size="14" fill="#131722" textLength="36.2" lengthAdjust="spacingAndGlyphs" text-anchor="middle">18:00</text>
<text x="835.5" y="752.6" font-size="14" fill="#131722" textLength="14.5" lengthAdjust="spacingAndGlyphs" text-anchor="middle">13</text>
<text x="921.8" y="752.6" font-size="14" fill="#131722" textLength="36.2" lengthAdjust="spacingAndGlyphs" text-anchor="middle">06:00</text>
<text x="1008.1" y="752.6" font-size="14" fill="#131722" textLength="36.2" lengthAdjust="spacingAndGlyphs" text-anchor="middle">12:00</text>
<text x="1094.4" y="752.6" font-size="14" fill="#131722" textLength="36.2" lengthAdjust="spacingAndGlyphs" text-anchor="middle">18:00</text>
<text x="1180.8" y="752.6" font-size="14" fill="#131722" textLength="14.5" lengthAdjust="spacingAndGlyphs" text-anchor="middle">14</text>
<text x="1267.1" y="752.6" font-size="14" fill="#131722" textLength="36.2" lengthAdjust="spacingAndGlyphs" text-anchor="middle">06:00</text>
<text x="1353.4" y="752.6" font-size="14" fill="#131722" textLength="36.2" lengthAdjust="spacingAndGlyphs" text-anchor="middle">12:00</text>
<text x="1439.7" y="752.6" font-size="14" fill="#131722" textLength="36.2" lengthAdjust="spacingAndGlyphs" text-anchor="middle">18:00</text>
<path d="M13.1 780.8H22.8V792.7H18.1V785.4H13.1Z" fill="#131722"/>
<circle cx="26.6" cy="783.3" r="2.45" fill="#131722"/>
<path d="M31.9 780.9H37.4L32.6 792.7H27.1Z" fill="#131722"/>
<text x="42.2" y="792.6" font-size="16" fill="#131722" textLength="87.5" lengthAdjust="spacingAndGlyphs">TradingView</text>
</svg>
</body></html>
